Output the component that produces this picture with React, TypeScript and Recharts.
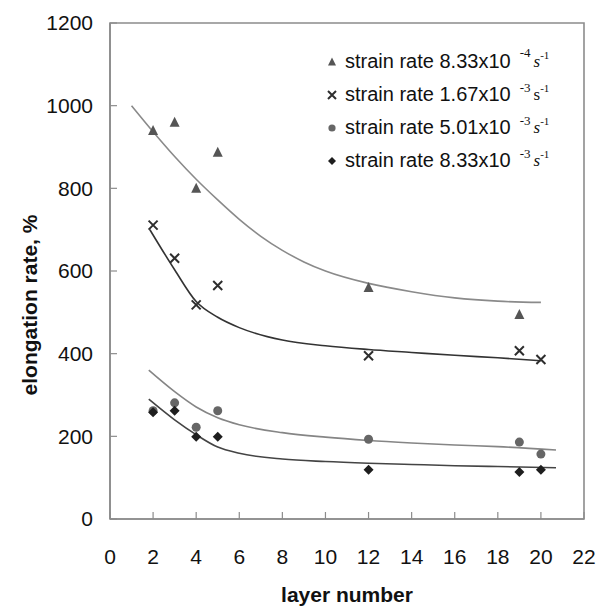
import React from 'react';
import { ComposedChart, Line, Scatter, XAxis, YAxis, ReferenceArea, Legend } from 'recharts';

// ---- axis ticks ----
const xTicks = [0, 2, 4, 6, 8, 10, 12, 14, 16, 18, 20, 22];
const yTicks = [0, 200, 400, 600, 800, 1000, 1200];

// ---- measured points ----
const rate1Layers = [2, 3, 4, 5, 12, 19];
const rate1Elong = [940, 960, 800, 887, 560, 495];
const rate2Layers = [2, 3, 4, 5, 12, 19, 20];
const rate2Elong = [711, 631, 518, 565, 395, 407, 386];
const rate3Layers = [2, 3, 4, 5, 12, 19, 20];
const rate3Elong = [262, 281, 222, 262, 193, 186, 157];
const rate4Layers = [2, 3, 4, 5, 12, 19, 20];
const rate4Elong = [258, 262, 199, 199, 119, 114, 119];

// ---- fitted curves ----
const fit1Layers = [1, 2, 3, 4, 5, 6, 7, 8, 9, 10, 12, 14, 16, 18, 20];
const fit1Elong = [1000, 937, 877, 822, 772, 725, 684, 650, 622, 600, 570, 550, 535, 527, 524];
const fit2Layers = [1.85, 3, 4, 5, 6, 8, 10, 12, 14, 16, 18, 20];
const fit2Elong = [700, 603, 526, 488, 463, 433, 419, 410, 403, 396, 390, 383];
const fit3Layers = [1.8, 3, 4, 5, 6, 8, 10, 12, 14, 16, 18, 20.7];
const fit3Elong = [360, 308, 271, 245, 228, 209, 198, 190, 184, 179, 175, 167];
const fit4Layers = [1.8, 3, 4, 5, 6, 8, 10, 12, 14, 16, 18, 20.7];
const fit4Elong = [290, 240, 204, 174, 159, 145, 139, 135, 132, 129, 127, 124];

const legendLabels = ['strain rate 8.33x10', 'strain rate 1.67x10', 'strain rate 5.01x10', 'strain rate 8.33x10'];
const legendExps = ['-4', '-3', '-3', '-3'];

const zip = (xs: number[], ys: number[]) => xs.map((x, i) => ({ x, y: ys[i] }));

const C_TRI = '#555555';
const C_X = '#2e2e2e';
const C_CIR = '#666666';
const C_DIA = '#1e1e1e';
const FRAME = '#8c8c8c';
const SANS = '"Liberation Sans", Arial, sans-serif';
const SERIF = '"Liberation Serif", "Times New Roman", serif';

const Tri = ({ cx, cy, s = 10 }: any) => (
  <path d={`M${cx},${cy - s * 0.55} L${cx + s * 0.5},${cy + s * 0.45} L${cx - s * 0.5},${cy + s * 0.45} Z`} fill={C_TRI} />
);
const Cross = ({ cx, cy, s = 10 }: any) => (
  <path d={`M${cx - s / 2},${cy - s / 2} L${cx + s / 2},${cy + s / 2} M${cx + s / 2},${cy - s / 2} L${cx - s / 2},${cy + s / 2}`} stroke={C_X} strokeWidth={2} fill="none" />
);
const Dot = ({ cx, cy, s = 10 }: any) => <circle cx={cx} cy={cy} r={s * 0.45} fill={C_CIR} />;
const Dia = ({ cx, cy, s = 10 }: any) => (
  <path d={`M${cx},${cy - s / 2} L${cx + s / 2},${cy} L${cx},${cy + s / 2} L${cx - s / 2},${cy} Z`} fill={C_DIA} />
);

const markers = [Tri, Cross, Dot, Dia];

const LegendBox = () => (
  <div style={{ fontFamily: SANS, color: '#111' }}>
    {legendLabels.map((lab, i) => {
      const M = markers[i];
      return (
        <div key={i} style={{ height: 33, display: 'flex', alignItems: 'center', whiteSpace: 'nowrap' }}>
          <svg width={14} height={14} style={{ marginRight: 6 }}>
            <M cx={7} cy={7} s={8} />
          </svg>
          <span style={{ fontSize: 20 }}>{lab}</span>
          <span style={{ fontFamily: SERIF, fontSize: 13, position: 'relative', top: i === 0 ? -9 : -7, marginLeft: 9 }}>{legendExps[i]}</span>
          <span style={{ fontFamily: SERIF, fontSize: 17, marginLeft: 3, fontStyle: i === 1 ? 'normal' : 'italic' }}>s</span>
          <span style={{ fontFamily: SERIF, fontSize: 11, position: 'relative', top: -7 }}>-1</span>
        </div>
      );
    })}
  </div>
);

export default function App() {
  return (
    <div style={{ position: 'absolute', left: 0, top: 0, background: '#fff' }}>
      <ComposedChart width={606} height={615} margin={{ top: 23, right: 22, left: 0, bottom: 0 }}>
        <XAxis
          type="number"
          dataKey="x"
          domain={[0, 22]}
          ticks={xTicks}
          allowDataOverflow
          height={96}
          tickSize={-7}
          tickMargin={37}
          axisLine={{ stroke: FRAME, strokeWidth: 1.6 }}
          tickLine={{ stroke: FRAME, strokeWidth: 1.2 }}
          tick={{ fill: '#111', fontSize: 21, fontFamily: SANS }}
          label={{
            content: () => (
              <text x={347} y={602} textAnchor="middle" fontFamily={SANS} fontWeight="bold" fontSize={21} fill="#111">
                layer number
              </text>
            ),
          }}
        />
        <YAxis
          type="number"
          dataKey="y"
          domain={[0, 1200]}
          ticks={yTicks}
          allowDataOverflow
          width={110}
          tickSize={-7}
          tickMargin={24}
          axisLine={{ stroke: FRAME, strokeWidth: 1.6 }}
          tickLine={{ stroke: FRAME, strokeWidth: 1.2 }}
          tick={{ fill: '#111', fontSize: 21, fontFamily: SANS }}
          label={{
            content: () => (
              <text
                x={37}
                y={305}
                transform="rotate(-90 37 305)"
                textAnchor="middle"
                fontFamily={SANS}
                fontWeight="bold"
                fontSize={21}
                fill="#111"
              >
                elongation rate, %
              </text>
            ),
          }}
        />
        <ReferenceArea x1={0} x2={22} y1={0} y2={1200} fill="none" stroke={FRAME} strokeWidth={1.6} fillOpacity={0} />
        <Line data={zip(fit1Layers, fit1Elong)} dataKey="y" type="monotone" dot={false} stroke="#8a8a8a" strokeWidth={1.6} isAnimationActive={false} />
        <Line data={zip(fit2Layers, fit2Elong)} dataKey="y" type="monotone" dot={false} stroke="#333333" strokeWidth={1.6} isAnimationActive={false} />
        <Line data={zip(fit3Layers, fit3Elong)} dataKey="y" type="monotone" dot={false} stroke="#858585" strokeWidth={1.6} isAnimationActive={false} />
        <Line data={zip(fit4Layers, fit4Elong)} dataKey="y" type="monotone" dot={false} stroke="#444444" strokeWidth={1.6} isAnimationActive={false} />
        <Scatter data={zip(rate1Layers, rate1Elong)} dataKey="y" isAnimationActive={false} shape={(p: any) => <Tri cx={p.cx} cy={p.cy} s={10} />} />
        <Scatter data={zip(rate2Layers, rate2Elong)} dataKey="y" isAnimationActive={false} shape={(p: any) => <Cross cx={p.cx} cy={p.cy} s={9} />} />
        <Scatter data={zip(rate3Layers, rate3Elong)} dataKey="y" isAnimationActive={false} shape={(p: any) => <Dot cx={p.cx} cy={p.cy} s={10} />} />
        <Scatter data={zip(rate4Layers, rate4Elong)} dataKey="y" isAnimationActive={false} shape={(p: any) => <Dia cx={p.cx} cy={p.cy} s={10} />} />
        <Legend
          layout="vertical"
          align="center"
          verticalAlign="middle"
          content={() => <LegendBox />}
          wrapperStyle={{ left: 325, top: 45, width: 270, height: 140 }}
        />
      </ComposedChart>
    </div>
  );
}
